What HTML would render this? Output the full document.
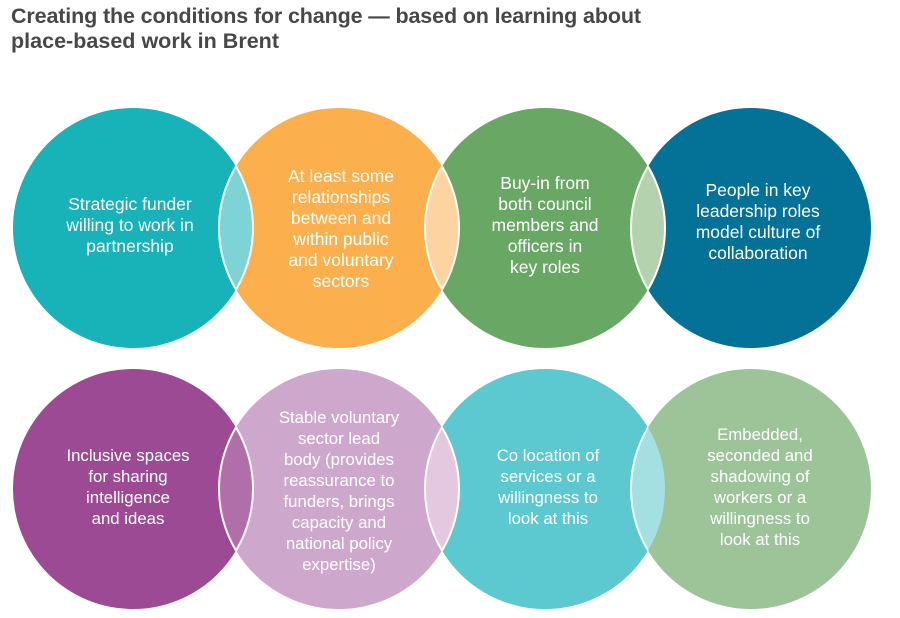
<!DOCTYPE html>
<html><head><meta charset="utf-8"><style>
html,body{margin:0;padding:0;background:#fff;}
svg{display:block;}
text{font-family:"Liberation Sans",sans-serif;}
.t{fill:#fff;font-size:17.5px;text-anchor:middle;}
.t2{fill:#fff;font-size:16.8px;text-anchor:middle;}
</style></head><body>
<svg width="900" height="618" viewBox="0 0 900 618" xmlns="http://www.w3.org/2000/svg">
<text x="11" y="23" font-size="21.5" font-weight="bold" fill="#474747" textLength="630">Creating the conditions for change — based on learning about</text>
<text x="11" y="48" font-size="21.5" font-weight="bold" fill="#474747" textLength="268">place-based work in Brent</text>
<defs>
<clipPath id="a1"><circle cx="133" cy="228" r="120"/></clipPath>
<clipPath id="a2"><circle cx="339" cy="228" r="120"/></clipPath>
<clipPath id="a3"><circle cx="545" cy="228" r="120"/></clipPath>
<clipPath id="a4"><circle cx="751" cy="228" r="120"/></clipPath>
<clipPath id="b1"><circle cx="133" cy="489" r="120"/></clipPath>
<clipPath id="b2"><circle cx="339" cy="489" r="120"/></clipPath>
<clipPath id="b3"><circle cx="545" cy="489" r="120"/></clipPath>
</defs>
<circle cx="133" cy="228" r="120" fill="#17b3b8"/>
<circle cx="339" cy="228" r="120" fill="#fbb04d"/>
<circle cx="545" cy="228" r="120" fill="#69a764"/>
<circle cx="751" cy="228" r="120" fill="#047196"/>
<circle cx="339" cy="228" r="120" fill="#7dd3d5" clip-path="url(#a1)"/>
<circle cx="545" cy="228" r="120" fill="#fdd3a2" clip-path="url(#a2)"/>
<circle cx="751" cy="228" r="120" fill="#b3d2ad" clip-path="url(#a3)"/>
<g fill="none" stroke="#fff" stroke-width="2">
<circle cx="339" cy="228" r="120" clip-path="url(#a1)"/><circle cx="133" cy="228" r="120" clip-path="url(#a2)"/>
<circle cx="545" cy="228" r="120" clip-path="url(#a2)"/><circle cx="339" cy="228" r="120" clip-path="url(#a3)"/>
<circle cx="751" cy="228" r="120" clip-path="url(#a3)"/><circle cx="545" cy="228" r="120" clip-path="url(#a4)"/>
</g>
<circle cx="133" cy="489" r="120" fill="#9b4a93"/>
<circle cx="339" cy="489" r="120" fill="#cea8cc"/>
<circle cx="545" cy="489" r="120" fill="#5bc9cf"/>
<circle cx="751" cy="489" r="120" fill="#9cc498"/>
<circle cx="339" cy="489" r="120" fill="#b06fa8" clip-path="url(#b1)"/>
<circle cx="545" cy="489" r="120" fill="#e3c8df" clip-path="url(#b2)"/>
<circle cx="751" cy="489" r="120" fill="#a4dfe1" clip-path="url(#b3)"/>
<g fill="none" stroke="#fff" stroke-width="2">
<circle cx="339" cy="489" r="120" clip-path="url(#b1)"/><circle cx="133" cy="489" r="120" clip-path="url(#b2)"/>
<circle cx="545" cy="489" r="120" clip-path="url(#b2)"/><circle cx="339" cy="489" r="120" clip-path="url(#b3)"/>
<circle cx="751" cy="489" r="120" clip-path="url(#b3)"/>
</g>
<g class="t">
<text x="130" y="210">Strategic funder</text><text x="130" y="231">willing to work in</text><text x="130" y="252">partnership</text>
<text x="341" y="182">At least some</text><text x="341" y="203">relationships</text><text x="341" y="224">between and</text><text x="341" y="245">within public</text><text x="341" y="266">and voluntary</text><text x="341" y="287">sectors</text>
<text x="545" y="189">Buy-in from</text><text x="545" y="210">both council</text><text x="545" y="231">members and</text><text x="545" y="252">officers in</text><text x="545" y="273">key roles</text>
<text x="758" y="196">People in key</text><text x="758" y="217">leadership roles</text><text x="758" y="238">model culture of</text><text x="758" y="259">collaboration</text>
</g>
<g class="t2">
<text x="128" y="461">Inclusive spaces</text><text x="128" y="482">for sharing</text><text x="128" y="503">intelligence</text><text x="128" y="524">and ideas</text>
<text x="339" y="423">Stable voluntary</text><text x="339" y="444">sector lead</text><text x="339" y="465">body (provides</text><text x="339" y="486">reassurance to</text><text x="339" y="507">funders, brings</text><text x="339" y="528">capacity and</text><text x="339" y="549">national policy</text><text x="339" y="570">expertise)</text>
<text x="548" y="461">Co location of</text><text x="548" y="482">services or a</text><text x="548" y="503">willingness to</text><text x="548" y="524">look at this</text>
<text x="760" y="440">Embedded,</text><text x="760" y="461">seconded and</text><text x="760" y="482">shadowing of</text><text x="760" y="503">workers or a</text><text x="760" y="524">willingness to</text><text x="760" y="545">look at this</text>
</g>
</svg>
</body></html>
